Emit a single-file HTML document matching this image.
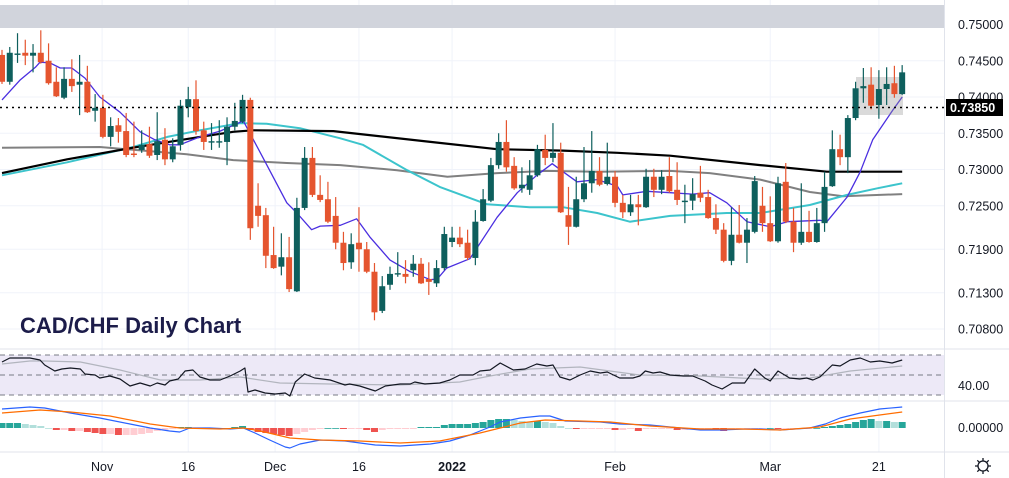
<!DOCTYPE html>
<html><head><meta charset="utf-8"><style>
html,body{margin:0;padding:0;background:#fff;}
svg{display:block;font-family:"Liberation Sans",sans-serif;}
</style></head><body>
<svg id="chart" width="1009" height="478" viewBox="0 0 1009 478">
<g id="grid"></g>
<rect x="0" y="5" width="944" height="23" fill="#d1d4dc"/>
<rect x="0" y="355" width="944" height="40" fill="#ede9f7"/>
<g id="panes"></g>
<g id="mas"></g>
<rect x="856" y="77" width="47" height="38" fill="rgba(150,150,150,0.35)"/>
<g id="candles"></g>
<line x1="0" y1="107.5" x2="944" y2="107.5" stroke="#000" stroke-width="1.6" stroke-dasharray="2,4"/>
<g id="rsi"></g>
<g id="macd"></g>
<g id="axis"></g>
<text x="20" y="333" font-size="22" font-weight="bold" fill="#1c1c4a">CAD/CHF Daily Chart</text>
<g>
<circle cx="983" cy="466" r="5" fill="none" stroke="#131722" stroke-width="1.3"/>
<path d="M983 458v3M983 471v3M975 466h3M988 466h3M977.3 460.3l2.1 2.1M986.6 469.6l2.1 2.1M977.3 471.7l2.1-2.1M986.6 462.4l2.1-2.1" stroke="#131722" stroke-width="1.3"/>
</g>
</svg>
<script>
// ---- data ----
const opens=[.7458,.7421,.7459,.7461,.7457,.7461,.7450,.7421,.7399,.7425,.7417,.7421,.7381,.7385,.7345,.7361,.7353,.7322,.7327,.7335,.7320,.7341,.7314,.7334,.7386,.7397,.7354,.7338,.7338,.7338,.7359,.7366,.7396,.7250,.7237,.7182,.7166,.7179,.7132,.7247,.7316,.7265,.7259,.7236,.7199,.7172,.7199,.7190,.7159,.7105,.7141,.7156,.7156,.7161,.7170,.7149,.7143,.7164,.7200,.7206,.7199,.7178,.7229,.7257,.7306,.7338,.7305,.7274,.7272,.7292,.7327,.7316,.7323,.7237,.7221,.7259,.7281,.7298,.7280,.7290,.7254,.7241,.7252,.7248,.7290,.7272,.7291,.7272,.7255,.7257,.7268,.7262,.7233,.7217,.7174,.7210,.7199,.7214,.7250,.7226,.7201,.7283,.7228,.7199,.7214,.7200,.7226,.7277,.7328,.7317,.7371,.7412,.7417,.7389,.7411,.7419,.7404];
const highs=[.7465,.7469,.7488,.7479,.7473,.7492,.7474,.7441,.7441,.7452,.7458,.7443,.7404,.7403,.7372,.7371,.7378,.7366,.7354,.7359,.7379,.7357,.7343,.7396,.7414,.7423,.7366,.7364,.7368,.7372,.7392,.7403,.7399,.7281,.7247,.7221,.7212,.7207,.7261,.7331,.7331,.7292,.7283,.7262,.7214,.7212,.7248,.7200,.7171,.7153,.7166,.7186,.7175,.7182,.7178,.7172,.7175,.7221,.7221,.7221,.7217,.7244,.7273,.7316,.7350,.7368,.7317,.7303,.7313,.7334,.7348,.7364,.7337,.7276,.7290,.7331,.7353,.7317,.7337,.7298,.7265,.7265,.7265,.7301,.7301,.7299,.7317,.7310,.7279,.7288,.7305,.7272,.7252,.7226,.7248,.7251,.7233,.7291,.7276,.7263,.7290,.7309,.7247,.7281,.7243,.7247,.7297,.7354,.7348,.7375,.7421,.7440,.7441,.7437,.7441,.7443,.7444];
const lows=[.7418,.7417,.7447,.7444,.7434,.7446,.7417,.7400,.7397,.7407,.7375,.7378,.7366,.7343,.7332,.7337,.7317,.7317,.7323,.7316,.7313,.7306,.7310,.7326,.7372,.7348,.7327,.7327,.7330,.7306,.7354,.7364,.7203,.7221,.7164,.7163,.7154,.7131,.7131,.7244,.7262,.7255,.7226,.7190,.7161,.7163,.7159,.7157,.7092,.7102,.7134,.7152,.7143,.7152,.7142,.7127,.7138,.7161,.7193,.7193,.7175,.7168,.7228,.7255,.7301,.7297,.7272,.7268,.7265,.7290,.7306,.7310,.7240,.7196,.7220,.7255,.7268,.7277,.7278,.7248,.7233,.7236,.7223,.7247,.7262,.7266,.7268,.7251,.7226,.7244,.7255,.7232,.7211,.7172,.7168,.7198,.7171,.7212,.7214,.7200,.7199,.7226,.7186,.7196,.7199,.7199,.7214,.7276,.7306,.7295,.7368,.7392,.7383,.7370,.7389,.7399,.7403];
const closes=[.7421,.7461,.7460,.7457,.7461,.7448,.7419,.7401,.7425,.7415,.7421,.7379,.7385,.7345,.7360,.7352,.7320,.7320,.7334,.7319,.7339,.7314,.7332,.7388,.7397,.7353,.7338,.7339,.7339,.7359,.7367,.7396,.7219,.7236,.7181,.7164,.7179,.7135,.7247,.7316,.7265,.7258,.7228,.7199,.7171,.7197,.7190,.7159,.7103,.7139,.7156,.7157,.7152,.7170,.7143,.7145,.7164,.7211,.7206,.7197,.7178,.7228,.7259,.7306,.7338,.7303,.7274,.7279,.7292,.7328,.7316,.7323,.7241,.7221,.7259,.7281,.7298,.7279,.7290,.7254,.7241,.7252,.7248,.7290,.7272,.7290,.7270,.7258,.7257,.7266,.7261,.7233,.7217,.7174,.7210,.7199,.7217,.7284,.7226,.7201,.7281,.7228,.7199,.7214,.7200,.7226,.7276,.7328,.7317,.7371,.7412,.7415,.7388,.7411,.7418,.7404,.7434];
const priceTicks=[0.75,0.745,0.74,0.735,0.73,0.725,0.719,0.713,0.708];
const dateLabels=["Nov","16","Dec","16","2022","Feb","Mar","21"];
const dateIdx=[12.9,24,35.2,46,58,79,99,113];
// moving averages (knots: candle index, price)
const blackIdx=[0,8.4,16.9,25.5,29.8,32.3,42.7,55.2,63.8,72.3,79.3,86.1,97.7,106.3,116];
const blackVal=[.7295,.7314,.7330,.7345,.7352,.7354,.7353,.7338,.7328,.7326,.7323,.7319,.7306,.7297,.7297];
const grayIdx=[0,12.6,23.8,29.8,36.7,43.6,50.9,57.4,63.8,70.2,76.7,86.1,91.2,97.7,104.1,108.4,116];
const grayVal=[.7330,.7331,.7321,.7313,.7309,.7306,.7299,.7290,.7295,.7298,.7297,.7298,.7295,.7286,.7269,.7263,.7266];
const cyanIdx=[0,8.4,16.9,21.3,25.5,30.7,34.1,38.4,43.6,46.5,52.2,56.4,62.5,68,72.3,76.7,80.9,86.1,93.4,97.7,104.1,108.9,112.8,116];
const cyanVal=[.7292,.7310,.7331,.7345,.7354,.7364,.7363,.7357,.7343,.7334,.7299,.7276,.7252,.7248,.7248,.7240,.7228,.7236,.7240,.7240,.7251,.7265,.7274,.7281];
const purpleIdx=[0,2.3,4.3,4.9,6.2,7.5,9,10.7,12.6,15.2,17.8,19.7,21.6,22.9,25.5,28.1,31.1,33.6,36.7,38,39.9,41,43.6,45.7,47.4,50,52.6,55.2,56.1,57.3,60.3,63.8,66.4,68.9,70.9,72.3,74.1,76.7,79.3,80,83.1,86.1,89,91.2,93.4,96,99,101.2,105.4,106.3,108.9,110.6,112.2,114.8,116];
const purpleVal=[.7396,.7423,.7441,.7448,.7447,.7440,.7440,.7426,.7400,.7379,.7352,.7341,.7334,.7334,.7345,.7353,.7367,.7317,.7254,.7240,.7217,.7222,.7223,.7232,.7207,.7175,.7159,.7148,.7149,.7164,.7177,.7234,.7268,.7292,.7308,.7297,.7283,.7286,.7277,.7265,.7270,.7268,.7266,.7268,.7254,.7228,.7221,.7228,.7230,.7228,.7262,.7297,.7341,.7382,.7400];
// RSI
const rsiIdx=[0,1,3.6,4.9,5.5,6.8,7.7,8.8,10.1,10.7,12,12.6,13.9,15.2,16.5,17.8,19.1,20,21,21.6,22.7,23.6,24.6,25.5,26.8,28.1,29.4,30.7,31.3,31.7,32.6,33.9,35.2,36.5,37.1,37.8,39,40.3,42.3,44.2,44.8,46.1,48.1,49.4,51.3,52.6,53.2,54.5,56.4,57.7,59,60.7,61.6,62.9,64.2,65.9,67.4,68.9,70.2,71,71.9,73.2,74.5,75.8,77.1,78,79.6,81.3,82.2,82.9,83.9,84.8,86.1,87.8,89,90.6,91.5,92.8,94.1,95.7,97,98.3,99,100,101.5,102.8,103.7,104.5,105.4,107,108,109.3,110.6,111.9,113.1,114.7,116];
const rsiVal=[63,67,67,65,60,54,56,57,56,51,50,47,49,46,39,42,39,42,40,44,46,54,55,48,45,45,49,54,57,33,35,32,31,32,29,43,51,47,45,40,41,39,34,39,41,41,43,41,42,45,50,50,54,55,62,55,56,61,59,60,48,45,50,54,52,53,47,47,49,54,52,53,50,49,49,44,40,36,42,42,56,47,44,54,47,46,47,45,48,60,59,65,67,63,64,62,65];
const rsiMaIdx=[0,3.6,5.5,10.1,15.2,20.4,25.5,30.7,35.8,42.3,51.3,59,62.9,68,74.5,82.2,90,97.7,104.1,109.3,116];
const rsiMaVal=[61,64,64,63,55,45,45,48,42,41,40,43,49,56,58,50,49,46,47,54,59];
// MACD (units of 0.00001)
const hist=[5,5,5,4,3,2,0,-2,-2,-3,-3,-4,-5,-6,-6,-7,-7,-7,-6,-5,-3,-2,-1,1,1,0,-1,-1,-1,0,1,2,-2,-4,-5,-6,-7,-8,-6,-4,-2,-1,0,0,-1,-1,-1,-2,-4,-2,-1,-1,-1,-1,1,1,1,3,4,4,4,5,6,8,9,9,8,7,6,7,6,5,2,0,-1,-1,-1,-1,-1,-2,-2,-1,-3,-1,-1,-1,-1,-2,-2,-1,-1,-1,-2,-3,-1,-1,-1,-1,-1,0,-1,-1,-1,-1,-1,0,1,2,3,4,6,8,9,7,7,6,6];
const macdIdx=[0,3.6,5.5,8.8,12.6,16.5,19.1,21.6,22.9,24.2,26.8,29.4,31.1,32.6,34.5,36.5,37.1,38.4,41,44.2,48.1,51.3,55.2,57.7,60.3,62.9,64.2,66.8,69.3,70.6,72.6,77.1,79.6,83.5,87.4,90,92.5,95.7,97.7,100.3,104.1,106.1,108,110.6,113.1,116];
const macdVal=[19,21,20,15,10,4,0,-3,-4,0,0,-1,0,-5,-12,-19,-20,-16,-12,-13,-17,-18,-16,-13,-7,1,6,10,12,12,7,6,4,3,0,-2,-2,-1,-1,-2,0,4,10,15,19,21];
const sigIdx=[0,4.9,8.8,13.9,19.1,22.9,28.1,31.1,33.3,37.1,41,46.1,51.3,56.4,61.6,64.2,66.8,70,74.5,78.4,83.5,90,95.1,100.3,105.4,109.3,113.1,116];
const sigVal=[15,18,16,12,4,0,-1,0,-3,-10,-12,-13,-15,-13,-5,0,5,8,7,6,2,-1,-1,-2,1,9,13,16];

// ---- scales ----
const NS="http://www.w3.org/2000/svg";
const X=i=>2+i*7.76;
const Y=p=>169.5-(p-0.73)*7250;
const RY=v=>425-v;
const MY=v=>428-v;
function mk(tag,attrs,parent){const e=document.createElementNS(NS,tag);for(const k in attrs)e.setAttribute(k,attrs[k]);parent.appendChild(e);return e;}
const g=id=>document.getElementById(id);

// grid
const grid=g('grid');
priceTicks.forEach(p=>{const l=mk('line',{x1:0,x2:944,y1:Y(p),y2:Y(p),stroke:'#f0f3fa'},grid);

});
dateIdx.forEach(i=>{const l=mk('line',{x1:X(i),x2:X(i),y1:0,y2:452,stroke:'#f0f3fa'},grid);

});

// panes
const panes=g('panes');
[[349,'#e0e3eb'],[401,'#e0e3eb'],[452,'#e0e3eb']].forEach(([y,c])=>{const l=mk('line',{x1:0,x2:1009,y1:y,y2:y,stroke:c},panes);

});
const vs=mk('line',{x1:944.5,x2:944.5,y1:0,y2:478,stroke:'#e0e3eb'},panes);


[70,50,30].forEach(v=>{const l=mk('line',{x1:0,x2:944,y1:RY(v),y2:RY(v),stroke:'#787b86','stroke-dasharray':'5,4'},panes);

});

// moving averages
function poly(idx,val,f,color,w,name,parent){
  const pts=idx.map((i,k)=>X(i).toFixed(1)+','+f(val[k]).toFixed(1)).join(' ');
  const e=mk('polyline',{points:pts,fill:'none',stroke:color,'stroke-width':w,'stroke-linejoin':'round'},parent);
  
  
}
const mas=g('mas');
poly(grayIdx,grayVal,Y,'#808080',2,'ma-gray-line',mas);
poly(cyanIdx,cyanVal,Y,'#3cc4cc',2,'ma-cyan-line',mas);
poly(blackIdx,blackVal,Y,'#000000',2.2,'ma-black-line',mas);
poly(purpleIdx,purpleVal,Y,'#4a2ee0',1.3,'ma-purple-line',mas);

// candles
const cg=g('candles');
closes.forEach((c,i)=>{
  const o=opens[i],up=c>=o,col=up?'#0e5f5d':'#e5552f';
  const x=X(i);
  const w=mk('line',{x1:x,x2:x,y1:Y(highs[i]),y2:Y(lows[i]),stroke:col,'stroke-width':1.2},cg);
  
  
  const top=Y(Math.max(o,c)),bot=Y(Math.min(o,c));
  const b=mk('rect',{x:x-3,y:top,width:6,height:Math.max(1.4,bot-top),fill:col},cg);
  
  
});

// RSI
const rg=g('rsi');
poly(rsiMaIdx,rsiMaVal,RY,'#b2b5be',1.2,'rsi-ma-line',rg);
poly(rsiIdx,rsiVal,RY,'#131722',1.2,'rsi-line',rg);

// MACD
const mg=g('macd');
hist.forEach((h,i)=>{
  const prev=i>0?hist[i-1]:h;
  const col=h>=0?(h>=prev?'#26a69a':'#b2dfdb'):(h<prev?'#ef5350':'#ffcdd2');
  const y=h>=0?MY(h):MY(0);
  const r=mk('rect',{x:X(i)-3.5,y:y,width:7,height:Math.max(0.8,Math.abs(h)),fill:col},mg);
  
  
});
poly(macdIdx,macdVal,MY,'#2962ff',1.2,'macd-line',mg);
poly(sigIdx,sigVal,MY,'#ff6d00',1.2,'signal-line',mg);

// axis labels
const ax=g('axis');
priceTicks.forEach(p=>{const t=mk('text',{x:958,y:Y(p)+4.5,'font-size':12.5,fill:'#131722'},ax);t.textContent=p.toFixed(5);

});
const pb=mk('rect',{x:946,y:99,width:57,height:17,fill:'#000'},ax);


const pt=mk('text',{x:950,y:112,'font-size':12.5,'font-weight':'bold',fill:'#fff'},ax);pt.textContent='0.73850';


const r40=mk('text',{x:958,y:390,'font-size':12.5,fill:'#131722'},ax);r40.textContent='40.00';


const m0=mk('text',{x:958,y:432,'font-size':12.5,fill:'#131722'},ax);m0.textContent='0.00000';


dateLabels.forEach((d,k)=>{const t=mk('text',{x:X(dateIdx[k]),y:471,'font-size':12.5,fill:'#131722','text-anchor':'middle','font-weight':d==='2022'?'bold':'normal'},ax);t.textContent=d;

});
</script>
</body></html>
